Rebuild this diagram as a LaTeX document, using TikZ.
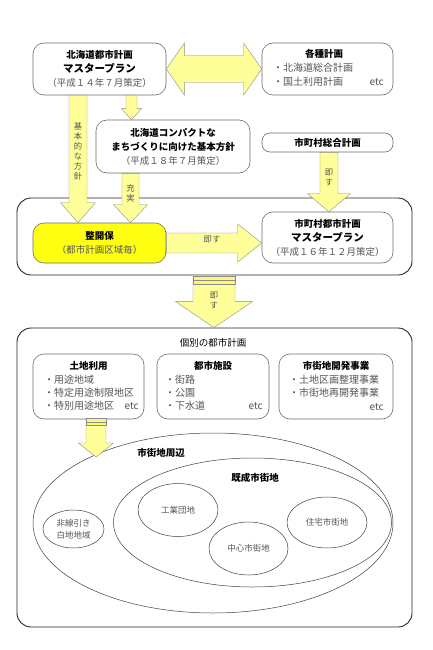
\documentclass[tikz,border=0pt]{standalone}
\usepackage{fontspec}
\setmainfont{Noto Sans CJK JP}
\usepackage{tikz}
\usetikzlibrary{shapes.geometric,calc,positioning}
\definecolor{pyel}{HTML}{FFFF99}
\definecolor{kyel}{HTML}{FFFF11}
\definecolor{txtg}{HTML}{555555}
\definecolor{edg}{HTML}{6E6E6E}
\newcommand{\subtx}[1]{{\color{txtg}#1}}
% block arrows: start, tip, shaft half width, head half width, head length
\newcommand{\varrow}[5]{%
  \filldraw[blk] let \p1=(#1), \p2=(#2) in
    (\x1-#3,\y1) -- (\x1+#3,\y1) -- (\x1+#3,\y2+#5) -- (\x1+#4,\y2+#5) -- (\x1,\y2)
    -- (\x1-#4,\y2+#5) -- (\x1-#3,\y2+#5) -- cycle;}
\newcommand{\harrow}[5]{%
  \filldraw[blk] let \p1=(#1), \p2=(#2) in
    (\x1,\y1+#3) -- (\x2-#5,\y1+#3) -- (\x2-#5,\y1+#4) -- (\x2,\y1) -- (\x2-#5,\y1-#4)
    -- (\x2-#5,\y1-#3) -- (\x1,\y1-#3) -- cycle;}
\begin{document}
\begin{tikzpicture}[x=1pt,y=-1pt,
  box/.style={draw=edg, line width=0.6pt, rounded corners=11pt, fill=white, inner sep=0pt, align=center, font=\fontsize{9.5}{14}\selectfont},
  ybox/.style={box, fill=kyel},
  frame/.style={draw=black!85, line width=0.9pt, rounded corners=14pt, inner sep=0pt},
  blk/.style={fill=pyel, draw=edg!80, line width=0.4pt},
  ell/.style={ellipse, draw=black!75, line width=0.5pt, inner sep=0pt, text=txtg, align=center, font=\fontsize{8.5}{12}\selectfont},
  ttl/.style={font=\bfseries\fontsize{9.5}{12}\selectfont, inner sep=0pt},
  itm/.style={font=\fontsize{10}{12}\selectfont, text=txtg, inner sep=0pt, anchor=west},
  albl/.style={font=\fontsize{8.3}{10}\selectfont, text=txtg, inner sep=0pt, align=center}]

\useasboundingbox[fill=white] (0,0) rectangle (433,650);

% frames
\node[frame, minimum width=395pt, minimum height=77pt] (fr1) at (214.5,236.5) {};
\node[frame, minimum width=395pt, minimum height=299pt] (fr2) at (214.5,477.5) {};

% upper boxes
\node[box, minimum width=133pt, minimum height=52pt] (hmp) at (99.5,69) {\textbf{北海道都市計画}\\{\fontsize{10.5}{14}\selectfont\textbf{マスタープラン}}\\\subtx{（平成１４年７月策定）}};
\node[box, minimum width=131pt, minimum height=52pt] (kks) at (327.5,69) {};
\node[ttl] (kksT) at (324,54) {各種計画};
\node[itm] (kks1) at (273,68) {・北海道総合計画};
\node[itm] (kks2) at (273,82) {・国土利用計画};
\node[itm, anchor=east] (kks3) at (384,82) {etc};
\node[box, minimum width=154pt, minimum height=53pt] (cmp) at (173,146.5) {\textbf{北海道コンパクトな}\\\textbf{まちづくりに向けた基本方針}\\\subtx{（平成１８年７月策定）}};
\node[box, rounded corners=8pt, minimum width=131pt, minimum height=19pt] (sgk) at (327.5,142.5) {\textbf{市町村総合計画}};

\node[ybox, minimum width=133pt, minimum height=40pt] (kaiho) at (99.5,243) {\textbf{整開保}\\\subtx{（都市計画区域毎）}};
\node[box, minimum width=131pt, minimum height=51pt] (smp) at (327.5,237.5) {\textbf{市町村都市計画}\\{\fontsize{10.5}{14}\selectfont\textbf{マスタープラン}}\\\subtx{（平成１６年１２月策定）}};

% arrows
\filldraw[blk] let \p1=(hmp.east), \p2=(kks.west) in
  (\x1,\y1) -- (\x1+18,\y1+26) -- (\x1+18,\y1+13.5) -- (\x2-18,\y1+13.5) -- (\x2-18,\y1+26)
  -- (\x2,\y1) -- (\x2-18,\y1-26) -- (\x2-18,\y1-13.5) -- (\x1+18,\y1-13.5) -- (\x1+18,\y1-26) -- cycle;
\varrow{78,0 |- hmp.south}{78,0 |- kaiho.north}{9}{17.5}{20}
\varrow{131.5,0 |- hmp.south}{131.5,0 |- cmp.north}{5.5}{10}{11}
\varrow{130.5,0 |- cmp.south}{130.5,0 |- kaiho.north}{8.5}{17}{18}
\varrow{329,0 |- sgk.south}{329,0 |- smp.north}{9}{21.5}{18}
\harrow{kaiho.east}{kaiho.east -| smp.west}{10}{19}{24}
\varrow{214,0 |- fr1.south}{214,0 |- fr2.north}{21}{38.5}{26}
\filldraw[fill=yellow!55!white, draw=edg!80, line width=0.4pt] ($(fr1.south)+(-21.5,1)$) rectangle ($(fr1.south)+(20.5,9)$);
\draw[edg!80, line width=0.4pt] ($(fr1.south)+(-21.5,5)$) -- ($(fr1.south)+(20.5,5)$);

\node[albl] (lkihon) at (78,151) {基\\本\\的\\な\\方\\針};
\node[albl] (ljuji) at (130.5,193) {充\\実};
\node[albl] (lsoku1) at (329,177) {即\\す};
\node[albl] (lsoku2) at (212,240) {即す};
\node[albl] (lsoku3) at (214,300) {即\\す};

% individual plans
\node[font=\fontsize{9.5}{12}\selectfont, inner sep=0pt] (kobetsu) at (213,343) {個別の都市計画};
\node[box, minimum width=111pt, minimum height=65pt] (lu) at (88.5,386.5) {};
\node[box, minimum width=112pt, minimum height=65pt] (fac) at (213,386.5) {};
\node[box, minimum width=114pt, minimum height=65pt] (dev) at (336,386.5) {};
\node[ttl] (luT) at (88.5,366) {土地利用};
\node[itm] (lu1) at (44,380) {・用途地域};
\node[itm] (lu2) at (44,393) {・特定用途制限地区};
\node[itm] (lu3) at (44,406) {・特別用途地区};
\node[itm, anchor=east] (lu4) at (139,406) {etc};
\node[ttl] (facT) at (213,366) {都市施設};
\node[itm] (fac1) at (165,380) {・街路};
\node[itm] (fac2) at (165,393) {・公園};
\node[itm] (fac3) at (165,406) {・下水道};
\node[itm, anchor=east] (fac4) at (263,406) {etc};
\node[ttl] (devT) at (336,366) {市街地開発事業};
\node[itm] (dev1) at (289,380) {・土地区画整理事業};
\node[itm] (dev2) at (289,393) {・市街地再開発事業};
\node[itm, anchor=east] (dev3) at (384,407) {etc};

% urban area ellipses
\node[ell, minimum width=360pt, minimum height=180pt] (shuhen) at (213,523) {};
\node[ell, minimum width=278pt, minimum height=129pt] (kisei) at (252.5,522.5) {};
\node[ell, minimum width=80pt, minimum height=53pt] (kogyo) at (178,510) {工業団地};
\node[ell, minimum width=79pt, minimum height=53pt] (chushin) at (248.5,548.5) {中心市街地};
\node[ell, minimum width=80pt, minimum height=51pt] (jutaku) at (327,522.5) {住宅市街地};
\node[ell, minimum width=61pt, minimum height=38pt] (hisen) at (73.5,529) {非線引き\\白地地域};
\node[ttl] (shuhenT) at (161,453) {市街地周辺};
\node[ttl] (kiseiT) at (255,478) {既成市街地};

\coordinate (lutip) at (96,457);
\varrow{96,0 |- lu.south}{lutip}{10}{17.5}{14}
\filldraw[fill=yellow!55!white, draw=edg!80, line width=0.4pt] ($(lu.south -| lutip)+(-10,-1)$) rectangle ($(lu.south -| lutip)+(10,6)$);
\draw[edg!80, line width=0.4pt] ($(lu.south -| lutip)+(-10,3)$) -- ($(lu.south -| lutip)+(10,3)$);
\end{tikzpicture}
\end{document}
